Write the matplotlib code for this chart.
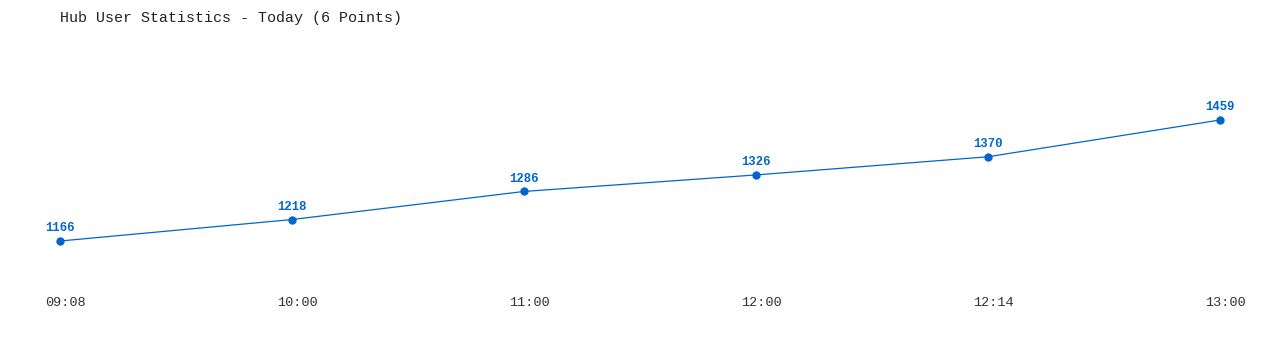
import matplotlib
matplotlib.use("Agg")
import matplotlib.pyplot as plt
import matplotlib.transforms as mtransforms

# hub user counts, today
times = ["09:08", "10:00", "11:00", "12:00", "12:14", "13:00"]
users = [1166, 1218, 1286, 1326, 1370, 1459]

blue = "#0066cc"
plt.rcParams['font.family'] = ['Liberation Mono', 'DejaVu Sans Mono']

W, H = 1280, 350
fig = plt.figure(figsize=(W / 100, H / 100), dpi=100)
# axes box in pixels: left 60, right 1220, top 40, bottom 290
ax = fig.add_axes([60 / W, 1 - 290 / H, 1160 / W, 250 / H])

xs = list(range(len(users)))
ax.plot(xs, users, color=blue, lw=0.9, marker="o", ms=5, clip_on=False)
for x, v in zip(xs, users):
    ax.annotate(str(v), (x, v), xytext=(0, 5), textcoords="offset points",
                ha="center", va="bottom", color=blue, fontsize=8.8,
                fontweight="bold")

ax.set_xlim(0, len(users) - 1)
ax.set_ylim(1047.4, 1652.7)
ax.set_xticks(xs)
ax.set_xticklabels(times)
ax.set_yticks([])
ax.tick_params(axis="x", length=0, pad=5, labelsize=9.7, labelcolor="#333333")
# labels sit a few px right of the points in the original
shift = mtransforms.ScaledTranslation(5 / 100, 0, fig.dpi_scale_trans)
for lbl in ax.get_xticklabels():
    lbl.set_transform(lbl.get_transform() + shift)
for s in ax.spines.values():
    s.set_visible(False)

fig.text(60 / W, 1 - 18 / H, "Hub User Statistics - Today (6 Points)",
         fontsize=10.8, color="#222222", va="center", ha="left")

fig.savefig("out.png", dpi=100)
